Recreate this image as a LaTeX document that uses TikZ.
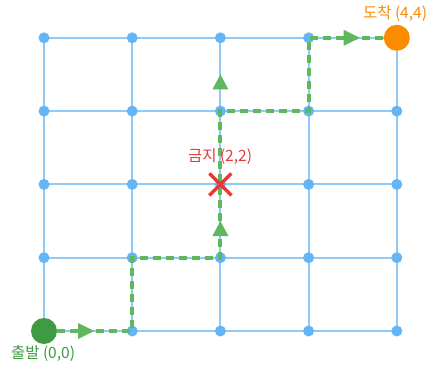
\documentclass[tikz,border=0pt]{standalone}
\usepackage{fontspec}
\usetikzlibrary{calc}
\newfontfamily\kr{Noto Sans CJK KR}
\begin{document}
\begin{tikzpicture}[x=1pt,y=-1pt,
  gridline/.style={draw=gridblue,line width=2pt},
  gdot/.style={circle,fill=dotblue,inner sep=0pt,minimum size=11pt},
  pathline/.style={draw=pathgreen,line width=4pt,dash pattern=on 8pt off 5pt},
  arrowtri/.style={fill=pathgreen},
  lbl/.style={font=\kr\fontsize{15.5pt}{17pt}\selectfont,inner sep=0pt}]
\definecolor{gridblue}{HTML}{90CAF9}
\definecolor{dotblue}{HTML}{64B5F6}
\definecolor{pathgreen}{HTML}{5FB760}
\definecolor{startgreen}{HTML}{3E9A43}
\definecolor{endorange}{HTML}{FB8C00}
\definecolor{xred}{HTML}{E53935}
\useasboundingbox (0,0) rectangle (428,367);
% grid coordinates
\foreach \i in {0,...,4}{
  \foreach \j in {0,...,4}{
    \coordinate (p\i\j) at ({44+88.2*\i},{331-73.3*\j});
  }
}
\foreach \k in {0,...,4}{
  \draw[gridline] (p0\k) -- (p4\k);
  \draw[gridline] (p\k0) -- (p\k4);
}
\foreach \i in {0,...,4}{
  \foreach \j in {0,...,4}{
    \node[gdot] (d\i\j) at (p\i\j) {};
  }
}
% path
\draw[pathline] (p00) -- (p10) -- (p11) -- (p21) -- (p22) -- (p23) -- (p33) -- (p34) -- (p44);
% arrow triangles
\coordinate (m1) at ($(p00)!0.5!(p10)$);
\fill[arrowtri] ([shift={(-10,-8)}]m1) -- ([shift={(6,0)}]m1) -- ([shift={(-10,8)}]m1) -- cycle;
\coordinate (m2) at ($(p21)!0.5!(p22)$);
\fill[arrowtri] ([shift={(-8,15)}]m2) -- ([shift={(0,0)}]m2) -- ([shift={(8,15)}]m2) -- cycle;
\coordinate (m3) at ($(p23)!0.5!(p24)$);
\fill[arrowtri] ([shift={(-8,15)}]m3) -- ([shift={(0,0)}]m3) -- ([shift={(8,15)}]m3) -- cycle;
\coordinate (m4) at ($(p34)!0.5!(p44)$);
\fill[arrowtri] ([shift={(-9,-8)}]m4) -- ([shift={(7,0)}]m4) -- ([shift={(-9,8)}]m4) -- cycle;
% start / end
\node[circle,fill=startgreen,inner sep=0pt,minimum size=26pt] (start) at (p00) {};
\node[circle,fill=endorange,inner sep=0pt,minimum size=26pt] (goal) at (p44) {};
% forbidden X
\draw[xred,line width=3.4pt] ([shift={(-11,-11)}]p22) -- ([shift={(11,11)}]p22);
\draw[xred,line width=3.4pt] ([shift={(-11,11)}]p22) -- ([shift={(11,-11)}]p22);
% labels
\node[lbl,text=startgreen] (ls) at (43,354) {출발 (0,0)};
\node[lbl,text=endorange] (le) at (395,14) {도착 (4,4)};
\node[lbl,text=xred] (lx) at (220,157) {금지 (2,2)};
\end{tikzpicture}
\end{document}
